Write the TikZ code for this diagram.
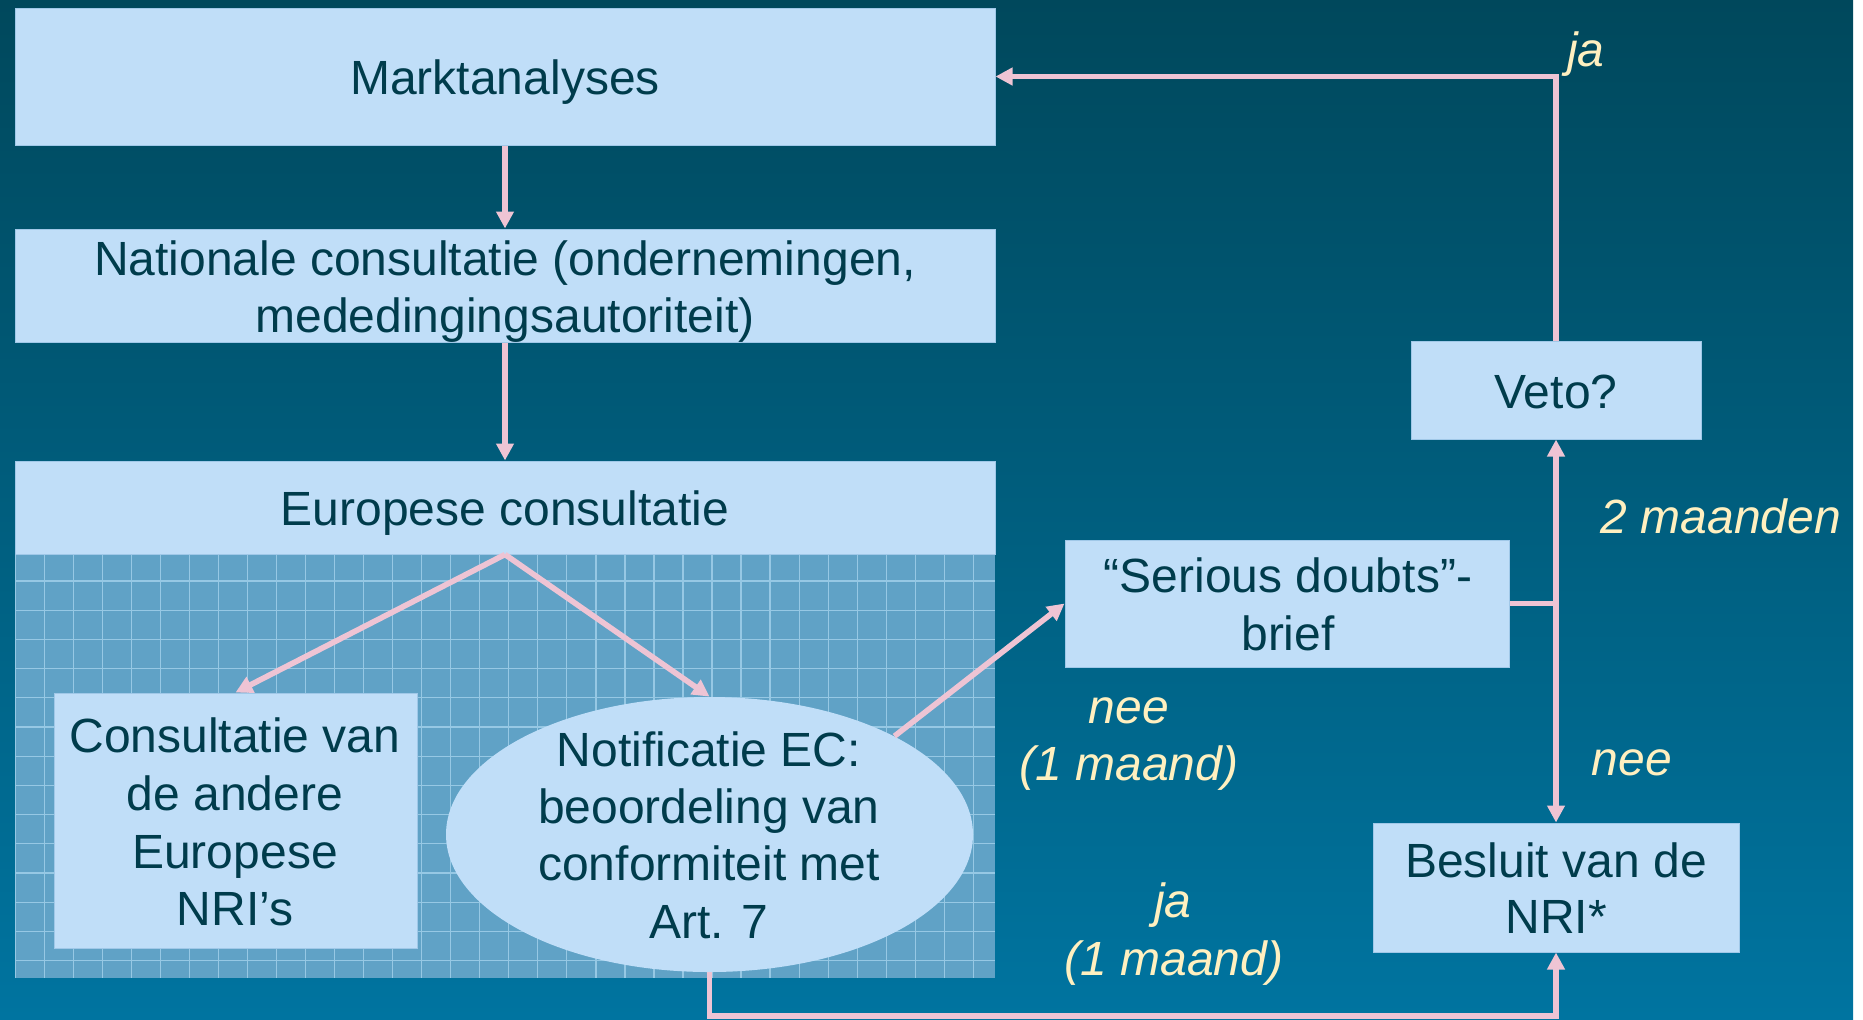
\documentclass[tikz,border=0pt]{standalone}
\usepackage{fontspec}
\setmainfont{Liberation Sans}
\usetikzlibrary{arrows.meta,shapes.geometric,calc}
\definecolor{bgtop}{RGB}{0,72,92}
\definecolor{bgbot}{RGB}{0,116,160}
\definecolor{boxfill}{RGB}{192,222,248}
\definecolor{boxedge}{RGB}{160,200,232}
\definecolor{txt}{RGB}{0,60,76}
\definecolor{lab}{RGB}{255,240,192}
\definecolor{pinkc}{RGB}{238,196,212}
\definecolor{gridfill}{RGB}{96,162,198}
\definecolor{gridline}{RGB}{150,200,228}
\begin{document}
\begin{tikzpicture}[x=0.5pt,y=-0.5pt,
  boxnode/.style={rectangle, fill=boxfill, draw=boxedge, line width=0.5pt, inner sep=0pt},
  ellnode/.style={ellipse, fill=boxfill, inner sep=0pt},
  txtnode/.style={anchor=base, inner sep=0pt, text=txt, font=\fontsize{24}{29}\selectfont},
  labnode/.style={anchor=base, inner sep=0pt, text=lab, font=\fontsize{24}{29}\selectfont\itshape},
  conn/.style={draw=pinkc, line width=2.8pt},
  arr/.style={conn, -{Triangle[length=8.5pt,width=8.5pt]}}
]
\useasboundingbox (0,0) rectangle (1863,1019);
% background
\fill[white] (0,0) rectangle (1863,1019);
\shade[top color=bgtop, bottom color=bgbot] (0,0) rectangle (1853,1019);
% grid area
\fill[gridfill] (15,554) rectangle (995,978);
\begin{scope}
  \clip (15,554) rectangle (995,978);
  \foreach \i in {0,...,34} {
    \draw[gridline, line width=0.6pt] ({15.3+29.03*\i},554) -- ({15.3+29.03*\i},978);
  }
  \foreach \j in {0,...,15} {
    \draw[gridline, line width=0.6pt] (15,{551.8+29.2*\j}) -- (995,{551.8+29.2*\j});
  }
\end{scope}
% boxes
\node[boxnode, minimum width=490pt, minimum height=68.5pt] (m) at (505,76.5) {};
\node[boxnode, minimum width=490pt, minimum height=56.5pt] (n) at (505,285.5) {};
\node[boxnode, minimum width=490pt, minimum height=46.5pt] (e) at (505,507.5) {};
\node[boxnode, minimum width=181.5pt, minimum height=127.5pt] (c) at (235.5,820.5) {};
\node[ellnode, minimum width=263.5pt, minimum height=137.5pt] (ell) at (709.5,834.5) {};
\node[boxnode, minimum width=222pt, minimum height=63.5pt] (s) at (1287,603.5) {};
\node[boxnode, minimum width=145pt, minimum height=49pt] (v) at (1556,390) {};
\node[boxnode, minimum width=183pt, minimum height=64.5pt] (b) at (1556,887.5) {};
% connectors
\draw[arr] (m.south) -- (n.north);
\draw[arr] (n.south) -- (e.north);
\draw[arr] (e.south) -- (c.north);
\draw[arr] (e.south) -- (ell.north);
\draw[arr] (ell.28) -- (s.west);
\coordinate (j) at (s.east -| v.south);
\draw[conn] (s.east) -- (j);
\draw[arr] (j) -- (v.south);
\draw[arr] (j) -- (b.north);
\draw[arr] (v.north) |- (m.east);
\coordinate (bl) at (709.5,1016);
\draw[arr] (ell.south) -- (bl) -| (b.south);
% texts
\node[txtnode] (tm) at (505,94) {Marktanalyses};
\node[txtnode] (tn1) at (505,275) {Nationale consultatie (ondernemingen,};
\node[txtnode] (tn2) at (505,332) {mededingingsautoriteit)};
\node[txtnode] (te) at (505,525) {Europese consultatie};
\node[txtnode] (tc1) at (235,752) {Consultatie van};
\node[txtnode] (tc2) at (235,810) {de andere};
\node[txtnode] (tc3) at (235,868) {Europese};
\node[txtnode] (tc4) at (235,925) {NRI’s};
\node[txtnode] (tl1) at (709,766) {Notificatie EC:};
\node[txtnode] (tl2) at (709,823) {beoordeling van};
\node[txtnode] (tl3) at (709,880) {conformiteit met};
\node[txtnode] (tl4) at (709,938) {Art. 7};
\node[txtnode] (ts1) at (1288,592) {“Serious doubts”-};
\node[txtnode] (ts2) at (1288,650) {brief};
\node[txtnode] (tv) at (1556,408) {Veto?};
\node[txtnode] (tb1) at (1556,877) {Besluit van de};
\node[txtnode] (tb2) at (1556,933) {NRI*};
% labels
\node[labnode] (l1) at (1586,66) {ja};
\node[labnode] (l2) at (1721,533) {2 maanden};
\node[labnode] (l3) at (1129,723) {nee};
\node[labnode] (l4) at (1129,780) {(1 maand)};
\node[labnode] (l5) at (1632,775) {nee};
\node[labnode] (l6) at (1173,917) {ja};
\node[labnode] (l7) at (1174,975) {(1 maand)};
\end{tikzpicture}
\end{document}
